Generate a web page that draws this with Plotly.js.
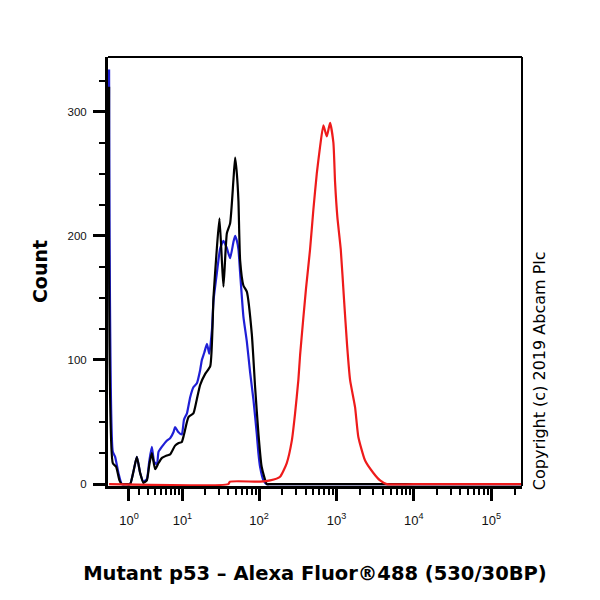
<!DOCTYPE html>
<html>
<head>
<meta charset="utf-8">
<script src="https://cdn.plot.ly/plotly-3.0.1.min.js"></script>
<style>
  html, body { margin: 0; padding: 0; background: #ffffff; }
  #chart { width: 600px; height: 600px; }
</style>
</head>
<body>
<div id="chart"></div>
<script>
// Fluorescence intensity (FL1, Alexa Fluor 488) at each histogram point, and event counts.
const blueFL = [-0.80, -0.46, -0.25, 0.043, 0.35, 0.74, 1.11, 1.43, 1.78, 2.13, 2.50, 2.91, 3.21, 3.56, 3.90,
  4.32, 4.57, 5.12, 6.06, 6.77, 7.56, 7.94, 8.79, 9.81, 10.5, 11.5, 12.7, 14.0, 15.5, 17.2, 18.1, 19.5,
  21.1, 22.6, 24.5, 25.7, 28.4, 31.4, 34.6, 38.3, 42.2, 46.6, 49.0, 51.6, 54.1, 56.9, 62.7, 69.4, 76.6,
  84.5, 93.5, 98.0, 103, 114, 126, 139, 1000, 10000, 250000];
const blueCount = [334, 26, 22, 9, 0, 0, 0, 10, 22, 9, 2, 4, 18, 30, 18,
  16, 26, 30, 35, 37, 42, 46, 42, 40, 52, 57, 70, 78, 81, 92, 100, 106,
  113, 105, 124, 148, 170, 190, 196, 190, 182, 195, 200, 196, 189, 170, 135, 115, 90,
  68, 40, 25, 14, 3, 0, 0, 0, 0, 0];

const blackFL = [-0.80, -0.46, -0.16, 0.133, 0.35, 0.74, 1.11, 1.43, 1.78, 2.13, 2.50, 2.91, 3.21, 3.56, 4.05,
  4.57, 5.12, 6.06, 6.77, 7.94, 8.79, 9.81, 10.5, 12.05, 14.0, 15.5, 17.2, 20.1, 23.3, 25.7, 28.4, 30.7,
  33.0, 34.6, 38.3, 42.2, 46.6, 49.0, 51.6, 54.1, 56.9, 62.7, 69.4, 80.5, 88.9, 98.0, 108, 126, 139,
  1000, 10000, 250000];
const blackCount = [320, 17, 14, 3, 0, 0, 0, 10, 22, 9, 1, 3, 15, 25, 12,
  17, 21, 23, 24, 31, 33, 34, 40, 54, 57, 68, 80, 89, 95, 151, 190, 214,
  180, 159, 202, 210, 245, 263, 250, 228, 180, 160, 155, 121, 78, 41, 14, 0, 0,
  0, 0, 0];

const redFL = [-0.80, 40, 42, 96, 103, 139, 187, 228, 265, 292, 322, 339, 371, 405, 456, 503, 557, 615,
  678, 750, 827, 913, 960, 1028, 1137, 1255, 1372, 1500, 1740, 1919, 2344, 3001, 3663, 4468, 10000, 250000];
const redCount = [0, 0, 2, 2, 2, 3, 6, 17, 35, 57, 84, 104, 132, 158, 189, 221, 250, 272,
  289, 280, 291, 275, 243, 215, 189, 148, 112, 84, 62, 38, 19, 9, 3, 0, 0, 0];

// Axis labelling
const decadeValues = [1, 10, 100, 1000, 10000, 100000];
const decadeLabels = ['10<sup>0</sup>', '10<sup>1</sup>', '10<sup>2</sup>', '10<sup>3</sup>', '10<sup>4</sup>', '10<sup>5</sup>'];
const minorMultipliers = [2, 3, 4, 5, 6, 7, 8, 9];
const countTicks = [0, 100, 200, 300];
const flRange = [-0.9, 250000];
const countRange = [-1.5, 344];

// Biexponential-style display scale: linear near zero, logarithmic above ~10.
function biex(v) { return Math.asinh(v / 3) / Math.LN10; }

const minorVals = [];
decadeValues.forEach(d => minorMultipliers.forEach(m => {
  const v = d * m;
  if (v < flRange[1]) minorVals.push(biex(v));
}));

const lineStyle = (color) => ({ color: color, width: 2.2, shape: 'spline', smoothing: 0.5 });

const traces = [
  { x: blueFL.map(biex), y: blueCount, mode: 'lines', line: lineStyle('#1f1fd6'), name: 'Isotype' },
  { x: blackFL.map(biex), y: blackCount, mode: 'lines', line: lineStyle('#000000'), name: 'Unstained' },
  { x: redFL.map(biex), y: redCount, mode: 'lines', line: lineStyle('#ee1b1b'), name: 'Mutant p53' }
];

const layout = {
  width: 600, height: 600,
  margin: { l: 108, r: 78, t: 57, b: 114 },
  paper_bgcolor: '#ffffff', plot_bgcolor: '#ffffff',
  showlegend: false,
  font: { family: 'Liberation Sans, Arial, sans-serif', color: '#000000' },
  xaxis: {
    type: 'linear',
    range: flRange.map(biex),
    tickmode: 'array',
    tickvals: decadeValues.map(biex),
    ticktext: decadeLabels,
    ticks: 'outside', ticklen: 12, tickwidth: 3, tickcolor: '#000000',
    ticklabelstandoff: 8,
    tickfont: { size: 13, family: 'Liberation Sans, Arial, sans-serif', color: '#111111' },
    minor: { tickmode: 'array', tickvals: minorVals, ticks: 'outside', ticklen: 6, tickwidth: 2, tickcolor: '#000000', showgrid: false },
    showgrid: false, zeroline: false,
    showline: true, linewidth: 3, linecolor: '#000000',
    title: {
      text: 'Mutant p53 – Alexa Fluor®488 (530/30BP)',
      font: { family: 'DejaVu Sans, sans-serif', size: 19.5, color: '#000000', weight: 'bold' },
      standoff: 40
    }
  },
  yaxis: {
    range: countRange,
    tickmode: 'array',
    tickvals: countTicks,
    ticks: 'outside', ticklen: 12, tickwidth: 3, tickcolor: '#000000',
    ticklabelstandoff: 4,
    tickfont: { size: 11.5, family: 'Liberation Sans, Arial, sans-serif', color: '#111111' },
    minor: { dtick: 25, tick0: 0, ticks: 'outside', ticklen: 6, tickwidth: 2, tickcolor: '#000000', showgrid: false },
    showgrid: false, zeroline: false,
    showline: true, linewidth: 3, linecolor: '#000000',
    title: {
      text: 'Count',
      font: { family: 'DejaVu Sans, sans-serif', size: 19, color: '#000000', weight: 'bold' },
      standoff: 15
    }
  },
  shapes: [
    { type: 'line', xref: 'paper', yref: 'paper', x0: 0, x1: 1, y0: 1, y1: 1, line: { color: '#000000', width: 2 } },
    { type: 'line', xref: 'paper', yref: 'paper', x0: 1, x1: 1, y0: 0, y1: 1, line: { color: '#000000', width: 2 } }
  ],
  annotations: [
    {
      text: 'Copyright (c) 2019 Abcam Plc',
      xref: 'paper', yref: 'paper', x: 1.041, y: 0.27,
      xanchor: 'center', yanchor: 'middle', textangle: -90, showarrow: false,
      font: { family: 'DejaVu Sans, sans-serif', size: 16, color: '#000000' }
    }
  ]
};

Plotly.newPlot('chart', traces, layout, { displayModeBar: false, staticPlot: true });
</script>
</body>
</html>
